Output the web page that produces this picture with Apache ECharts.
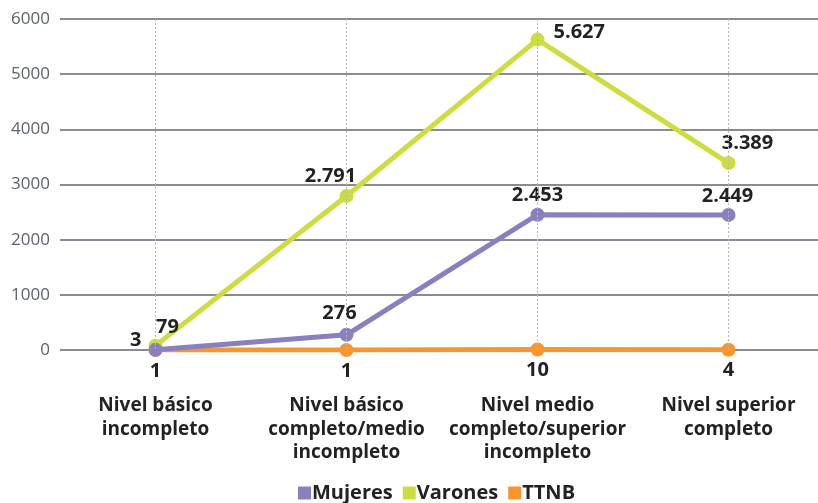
<!DOCTYPE html>
<html>
<head>
<meta charset="utf-8">
<script src="https://cdn.jsdelivr.net/npm/echarts@6/dist/echarts.min.js"></script>
<style>
  html, body { margin: 0; padding: 0; background: #fff; overflow: hidden; }
  #chart { width: 824px; height: 503px; }
</style>
</head>
<body>
<div id="chart"></div>
<script>
// Nivel educativo por género
const categories = [
  'Nivel básico\nincompleto',
  'Nivel básico\ncompleto/medio\nincompleto',
  'Nivel medio\ncompleto/superior\nincompleto',
  'Nivel superior\ncompleto'
];
const mujeres = [3, 276, 2453, 2449];
const varones = [79, 2791, 5627, 3389];
const ttnb = [1, 1, 10, 4];
const yTicks = [0, 1000, 2000, 3000, 4000, 5000, 6000];

const FONT = '"Open Sans", "Noto Sans", sans-serif';
const COLORS = { mujeres: '#8a80bf', varones: '#cddc3f', ttnb: '#f7962f' };

// thousands separator with a dot
const fmt = v => String(v).replace(/\B(?=(\d{3})+(?!\d))/g, '.');

const labelBase = {
  show: true,
  fontFamily: FONT,
  fontWeight: 'bold',
  fontSize: 20,
  color: '#222',
  formatter: p => fmt(p.value)
};

// per-point label placement
const varonesLabels = [
  { position: 'top', offset: [12, 4] },
  { position: 'top', offset: [-16, 2] },
  { position: 'right', offset: [4, -7] },
  { position: 'top', offset: [19, 2] }
];
const mujeresLabels = [
  { position: 'left', offset: [-2, -10] },
  { position: 'top', offset: [-7, 1] },
  { position: 'top', offset: [0, 3] },
  { position: 'top', offset: [-1, 3] }
];

function points(values, labels) {
  return values.map((v, i) => ({ value: v, label: labels ? labels[i] : undefined }));
}

const chart = echarts.init(document.getElementById('chart'));
chart.setOption({
  animation: false,
  textStyle: { fontFamily: FONT },
  grid: { left: 60, right: 0, top: 19, bottom: 153, containLabel: false },
  legend: {
    bottom: -5,
    left: 293,
    itemWidth: 13,
    itemHeight: 13,
    itemGap: 10,
    icon: 'rect',
    textStyle: { fontFamily: FONT, fontWeight: 'bold', fontSize: 20, color: '#222', padding: [0, 0, 0, -4] },
    data: ['Mujeres', 'Varones', 'TTNB']
  },
  xAxis: {
    type: 'category',
    data: categories,
    axisLine: { show: false },
    axisTick: { show: false },
    axisLabel: {
      interval: 0,
      margin: 44,
      fontFamily: FONT,
      fontWeight: 'bold',
      fontSize: 19,
      lineHeight: 23.5,
      color: '#222',
      verticalAlign: 'top'
    }
  },
  yAxis: {
    type: 'value',
    min: yTicks[0],
    max: yTicks[yTicks.length - 1],
    interval: 1000,
    axisLine: { show: false },
    axisTick: { show: false },
    axisLabel: { fontFamily: FONT, fontSize: 17, color: '#5b6270', margin: 10, formatter: v => String(v) },
    splitLine: { lineStyle: { color: '#5f6672', width: 1.5 } }
  },
  series: [
    {
      name: 'Varones',
      type: 'line',
      data: points(varones, varonesLabels),
      color: COLORS.varones,
      lineStyle: { width: 5 },
      symbol: 'circle',
      symbolSize: 14,
      label: labelBase,
      markLine: {
        silent: true,
        symbol: 'none',
        label: { show: false },
        lineStyle: { color: '#b8b8b8', type: [2, 2], width: 1 },
        data: categories.map((c, i) => [
          { coord: [i, yTicks[yTicks.length - 1]] },
          { coord: [i, yTicks[0]] }
        ])
      },
      z: 2
    },
    {
      name: 'TTNB',
      type: 'line',
      data: points(ttnb),
      color: COLORS.ttnb,
      lineStyle: { width: 5 },
      symbol: 'circle',
      symbolSize: 14,
      label: Object.assign({}, labelBase, { position: 'bottom', distance: 4 }),
      z: 3
    },
    {
      name: 'Mujeres',
      type: 'line',
      data: points(mujeres, mujeresLabels),
      color: COLORS.mujeres,
      lineStyle: { width: 5 },
      symbol: 'circle',
      symbolSize: 14,
      label: labelBase,
      z: 4
    }
  ]
});
</script>
</body>
</html>
